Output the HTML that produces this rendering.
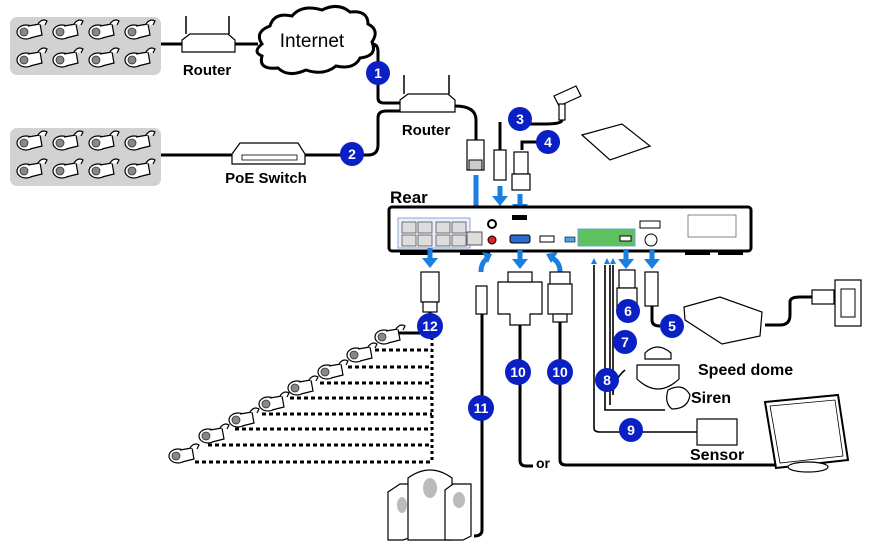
<!DOCTYPE html>
<html><head><meta charset="utf-8"><style>
html,body{margin:0;padding:0;background:#fff}
svg{display:block}
text{font-family:"Liberation Sans",sans-serif}
.b{font-weight:bold}
.c{fill:#0a1fc4}
.n{fill:#fff;font-weight:bold;font-size:14px;text-anchor:middle}
.k{stroke:#000;stroke-width:3;fill:none}
.t{stroke:#000;stroke-width:1.2;fill:#fff}
.ar{fill:#1a7fe0}
</style></head><body>
<svg width="870" height="547" viewBox="0 0 870 547" xmlns="http://www.w3.org/2000/svg">
<defs>
<g id="cam"><ellipse cx="0" cy="0" rx="9" ry="7" class="t"/><circle cx="-2" cy="0" r="4" fill="#888" stroke="#333" stroke-width=".8"/><path d="M2,-6 L14,-8 L16,3 L4,6" class="t"/><path d="M12,-8 q4,-6 9,-3 l-2,4" class="t"/></g>
<g id="ar"><rect x="-2.5" y="-14" width="5" height="12" class="ar"/><path d="M-8,-4 L8,-4 L0,6Z" class="ar"/></g>
</defs>
<rect x="10" y="17" width="151" height="58" rx="7" fill="#d2d2d2"/>
<rect x="10" y="128" width="151" height="58" rx="7" fill="#d2d2d2"/>
<g>
<use href="#cam" x="26" y="32"/><use href="#cam" x="62" y="32"/><use href="#cam" x="98" y="32"/><use href="#cam" x="134" y="32"/>
<use href="#cam" x="26" y="60"/><use href="#cam" x="62" y="60"/><use href="#cam" x="98" y="60"/><use href="#cam" x="134" y="60"/>
<use href="#cam" x="26" y="143"/><use href="#cam" x="62" y="143"/><use href="#cam" x="98" y="143"/><use href="#cam" x="134" y="143"/>
<use href="#cam" x="26" y="171"/><use href="#cam" x="62" y="171"/><use href="#cam" x="98" y="171"/><use href="#cam" x="134" y="171"/>
</g>
<path d="M161,44 H182 M235,44 H258 M372,44 Q378,44 378,52 V98 Q378,103 384,103 H402" class="k"/>
<path d="M182,40 L190,34 H228 L235,40 V52 H182Z" class="t"/><line x1="186" y1="34" x2="186" y2="16" stroke="#000" stroke-width="1.5"/><line x1="229" y1="34" x2="229" y2="16" stroke="#000" stroke-width="1.5"/>
<text x="207" y="75" class="b" font-size="15" text-anchor="middle">Router</text>
<path d="M262,44 q-8,-12 8,-18 q4,-14 22,-10 q10,-12 30,-6 q16,-8 28,2 q18,-2 18,12 q12,6 4,18 q6,14 -12,16 q-6,12 -24,8 q-12,10 -30,4 q-18,8 -28,-2 q-20,2 -16,-12 q-10,-4 0,-12Z" fill="#fff" stroke="#000" stroke-width="3"/>
<text x="312" y="47" font-size="19" text-anchor="middle">Internet</text>
<circle cx="378" cy="73" r="12" class="c"/><text x="378" y="78" class="n">1</text>
<path d="M400,100 L408,94 H448 L455,100 V112 H400Z" class="t"/><line x1="404" y1="94" x2="404" y2="75" stroke="#000" stroke-width="1.5"/><line x1="449" y1="94" x2="449" y2="75" stroke="#000" stroke-width="1.5"/>
<text x="426" y="135" class="b" font-size="15" text-anchor="middle">Router</text>
<path d="M455,106 Q476,106 476,120 V140" class="k"/>
<path d="M161,155 H232 M305,155 H368 Q378,155 378,145 V118 Q378,111 386,111 H400" class="k"/>
<path d="M232,154 L240,143 H298 L305,154 V164 H232Z" class="t"/><rect x="242" y="155" width="55" height="5" fill="#fff" stroke="#000" stroke-width=".8"/>
<text x="266" y="183" class="b" font-size="15" text-anchor="middle">PoE Switch</text>
<circle cx="352" cy="154" r="12" class="c"/><text x="352" y="159" class="n">2</text>
<rect x="467" y="140" width="17" height="30" class="t"/><rect x="469" y="160" width="13" height="10" fill="#ccc" stroke="#000"/>
<use href="#ar" x="476" y="222"/><rect x="473.5" y="175" width="5" height="40" class="ar"/>
<path d="M500,122 V150" class="k"/><rect x="494" y="150" width="12" height="30" class="t"/><use href="#ar" x="500" y="200"/>
<path d="M554,96 l22,-10 l5,10 l-22,10z" class="t"/><rect x="559" y="104" width="6" height="16" class="t"/>
<path d="M562,120 Q562,124 546,124 H520" class="k" stroke-width="2"/>
<circle cx="520" cy="119" r="12" class="c"/><text x="520" y="124" class="n">3</text>
<path d="M522,150 V142 H560" class="k"/><path d="M582,135 L622,124 L650,146 L610,160Z" class="t"/>
<rect x="514" y="152" width="14" height="22" class="t"/><rect x="512" y="174" width="18" height="16" class="t"/><use href="#ar" x="520" y="208"/>
<circle cx="548" cy="142" r="12" class="c"/><text x="548" y="147" class="n">4</text>
<text x="390" y="203" class="b" font-size="17">Rear</text>
<rect x="389" y="207" width="362" height="44" rx="3" fill="#fff" stroke="#000" stroke-width="3"/>
<rect x="398" y="218" width="72" height="30" fill="#eef" stroke="#8ac" stroke-width="1"/>
<g fill="#ddd" stroke="#555" stroke-width=".8"><rect x="402" y="222" width="14" height="11"/><rect x="418" y="222" width="14" height="11"/><rect x="436" y="222" width="14" height="11"/><rect x="452" y="222" width="14" height="11"/>
<rect x="402" y="235" width="14" height="11"/><rect x="418" y="235" width="14" height="11"/><rect x="436" y="235" width="14" height="11"/><rect x="452" y="235" width="14" height="11"/></g>
<rect x="467" y="232" width="15" height="13" fill="#ddd" stroke="#555"/>
<circle cx="492" cy="224" r="4" fill="#fff" stroke="#000" stroke-width="2"/><circle cx="492" cy="240" r="4" fill="#d22" stroke="#000"/>
<rect x="512" y="215" width="15" height="5" fill="#000"/>
<rect x="510" y="235" width="20" height="8" rx="2" fill="#2a6bd0" stroke="#000"/>
<rect x="540" y="236" width="14" height="6" fill="#fff" stroke="#000"/>
<rect x="565" y="237" width="10" height="5" fill="#4aa3f0" stroke="#000" stroke-width=".6"/>
<rect x="578" y="229" width="57" height="17" fill="#5fc05f" stroke="#6ac" stroke-width="1"/>
<rect x="620" y="236" width="11" height="5" fill="#fff" stroke="#000"/>
<circle cx="651" cy="240" r="6" fill="#fff" stroke="#000"/>
<rect x="640" y="221" width="20" height="7" fill="#fff" stroke="#000"/>
<rect x="688" y="215" width="48" height="22" fill="#fff" stroke="#666" stroke-width=".8"/>
<g fill="#000"><rect x="400" y="251" width="30" height="4"/><rect x="460" y="251" width="30" height="4"/><rect x="685" y="251" width="25" height="4"/><rect x="718" y="251" width="25" height="4"/></g>
<use href="#ar" x="430" y="262"/><rect x="427.5" y="253" width="5" height="10" class="ar"/>
<path d="M481,272 Q481,262 488,258" stroke="#1a7fe0" stroke-width="5" fill="none"/><path d="M482,252 l10,2 l-4,9z" class="ar"/>
<use href="#ar" x="520" y="263"/><path d="M560,272 Q560,262 552,258" stroke="#1a7fe0" stroke-width="5" fill="none"/><path d="M558,252 l-12,2 l5,9z" class="ar"/>
<path d="M594,258 l-3,6 h6z M607,258 l-3,6 h6z M613,258 l-3,6 h6z" fill="#1a7fe0"/>
<use href="#ar" x="626" y="263"/><use href="#ar" x="652" y="263"/>
<rect x="421" y="272" width="18" height="30" class="t"/><rect x="423" y="302" width="14" height="10" class="t"/>
<path d="M430,312 V325" class="k"/>
<path d="M432,337 V462" stroke="#000" stroke-width="3" stroke-dasharray="3,3" fill="none"/>
<g stroke="#000" stroke-width="3" stroke-dasharray="4,3"><line x1="375" y1="350" x2="432" y2="350"/><line x1="348" y1="367" x2="432" y2="367"/><line x1="320" y1="383" x2="432" y2="383"/><line x1="290" y1="398" x2="432" y2="398"/><line x1="262" y1="414" x2="432" y2="414"/><line x1="235" y1="429" x2="432" y2="429"/><line x1="208" y1="445" x2="432" y2="445"/><line x1="195" y1="462" x2="432" y2="462"/></g>
<path d="M396,333 H420" class="k"/>
<use href="#cam" x="384" y="337"/><use href="#cam" x="356" y="355"/><use href="#cam" x="327" y="372"/><use href="#cam" x="297" y="388"/><use href="#cam" x="268" y="404"/><use href="#cam" x="238" y="420"/><use href="#cam" x="208" y="436"/><use href="#cam" x="178" y="456"/>
<circle cx="430" cy="326" r="13" class="c"/><text x="430" y="331" class="n">12</text>
<rect x="476" y="286" width="11" height="28" class="t"/>
<path d="M482,314 V530 Q482,536 474,536" class="k"/>
<circle cx="481" cy="408" r="13" class="c"/><text x="481" y="413" class="n">11</text>
<path d="M388,492 l12,-8 h15 v52 l-12,4 h-15z" class="t"/><path d="M408,478 q22,-16 44,0 v62 h-44z" class="t"/><path d="M445,490 l8,-6 h18 v52 l-8,4 h-18z" class="t"/>
<ellipse cx="402" cy="505" rx="5" ry="8" fill="#bbb"/><ellipse cx="430" cy="488" rx="7" ry="10" fill="#bbb"/><ellipse cx="459" cy="500" rx="6" ry="8" fill="#bbb"/>
<path d="M498,282 H542 V314 H530 V325 H510 V314 H498Z" class="t"/><rect x="508" y="272" width="24" height="10" class="t"/>
<path d="M520,325 V460 Q520,466 526,466 H533" class="k"/>
<text x="536" y="468" class="b" font-size="14">or</text>
<circle cx="518" cy="372" r="13" class="c"/><text x="518" y="377" class="n">10</text>
<rect x="550" y="272" width="20" height="12" class="t"/><rect x="548" y="284" width="24" height="30" class="t"/><rect x="553" y="314" width="14" height="8" class="t"/>
<path d="M560,322 V460 Q560,465 566,465 H790" class="k"/>
<circle cx="560" cy="372" r="13" class="c"/><text x="560" y="377" class="n">10</text>
<path d="M594,265 V428 Q594,432 600,432 H697 M605,265 V410 H665 M610,265 V405 M613,265 V395 Q613,380 625,370" stroke="#000" stroke-width="1.6" fill="none"/>
<rect x="619" y="270" width="16" height="18" class="t"/><rect x="617" y="288" width="20" height="22" class="t"/>
<circle cx="628" cy="311" r="12" class="c"/><text x="628" y="316" class="n">6</text>
<circle cx="625" cy="342" r="12" class="c"/><text x="625" y="347" class="n">7</text>
<circle cx="607" cy="380" r="12" class="c"/><text x="607" y="385" class="n">8</text>
<circle cx="631" cy="430" r="12" class="c"/><text x="631" y="435" class="n">9</text>
<path d="M645,353 q12,-12 26,0 v6 h-26z" class="t"/><path d="M637,365 h42 v14 q-21,20 -42,0z" class="t"/>
<text x="698" y="375" class="b" font-size="16">Speed dome</text>
<path d="M668,390 q15,-8 22,5 q-2,14 -18,14 q-8,-6 -4,-19z" class="t"/>
<text x="691" y="403" class="b" font-size="16">Siren</text>
<rect x="697" y="419" width="40" height="26" class="t"/>
<text x="690" y="460" class="b" font-size="16">Sensor</text>
<rect x="645" y="272" width="13" height="34" class="t"/><path d="M652,306 V320 Q652,326 660,326" class="k"/>
<circle cx="672" cy="326" r="12" class="c"/><text x="672" y="331" class="n">5</text>
<path d="M684,307 L720,297 L762,312 L760,336 L722,344 L685,320Z" class="t"/>
<path d="M765,325 H780 Q790,325 790,315 V302 Q790,297 800,297 H812" class="k"/>
<rect x="812" y="290" width="22" height="14" class="t"/>
<rect x="835" y="280" width="26" height="46" class="t"/><rect x="841" y="289" width="14" height="28" fill="#fff" stroke="#000"/>
<path d="M765,402 L838,395 L848,460 L776,468Z" fill="#fff" stroke="#000" stroke-width="2"/>
<path d="M770,406 L835,400 L843,456 L780,463Z" fill="#fff" stroke="#000" stroke-width=".8"/>
<ellipse cx="808" cy="467" rx="20" ry="5" class="t"/>
</svg>
</body></html>
